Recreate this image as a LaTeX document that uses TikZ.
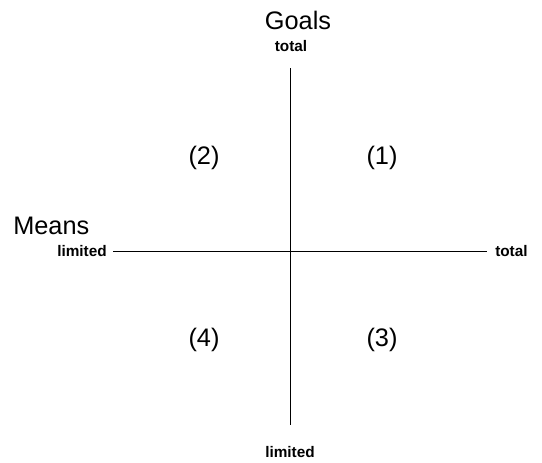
\documentclass[tikz,border=0pt]{standalone}
\usepackage{fontspec}
\setmainfont{Liberation Sans}
\usetikzlibrary{positioning}
\tikzset{ttl/.style={font=\fontsize{19}{22}\selectfont,inner sep=0pt},end/.style={font=\fontsize{11.5}{13}\selectfont\bfseries,inner sep=0pt},quad/.style={font=\fontsize{19}{22}\selectfont,inner sep=0pt},ax/.style={draw=black,line width=0.75pt}}

\begin{document}
\begin{tikzpicture}[x=0.75pt,y=-0.75pt]
\useasboundingbox (0,0) rectangle (542,462);
\coordinate (top) at (290,68);\coordinate (bot) at (290,425);\coordinate (lft) at (113,251);\coordinate (rgt) at (487,251);
\draw[ax] (top)--(bot);\draw[ax] (lft)--(rgt);
\node[ttl] (goals) at (298,20) {Goals};\node[end] (gtot) at (291,46) {total};\node[end] (glim) at (290,452) {limited};
\node[ttl,anchor=west] (means) at (13,226) {Means};\node[end,anchor=east] (mlim) at (107,251) {limited};\node[end,anchor=west] (mtot) at (495,251) {total};
\node[quad] (q1) at (382,158) {(1)};\node[quad] (q2) at (204,158) {(2)};\node[quad] (q3) at (382,340) {(3)};\node[quad] (q4) at (204,340) {(4)};
\end{tikzpicture}
\end{document}
